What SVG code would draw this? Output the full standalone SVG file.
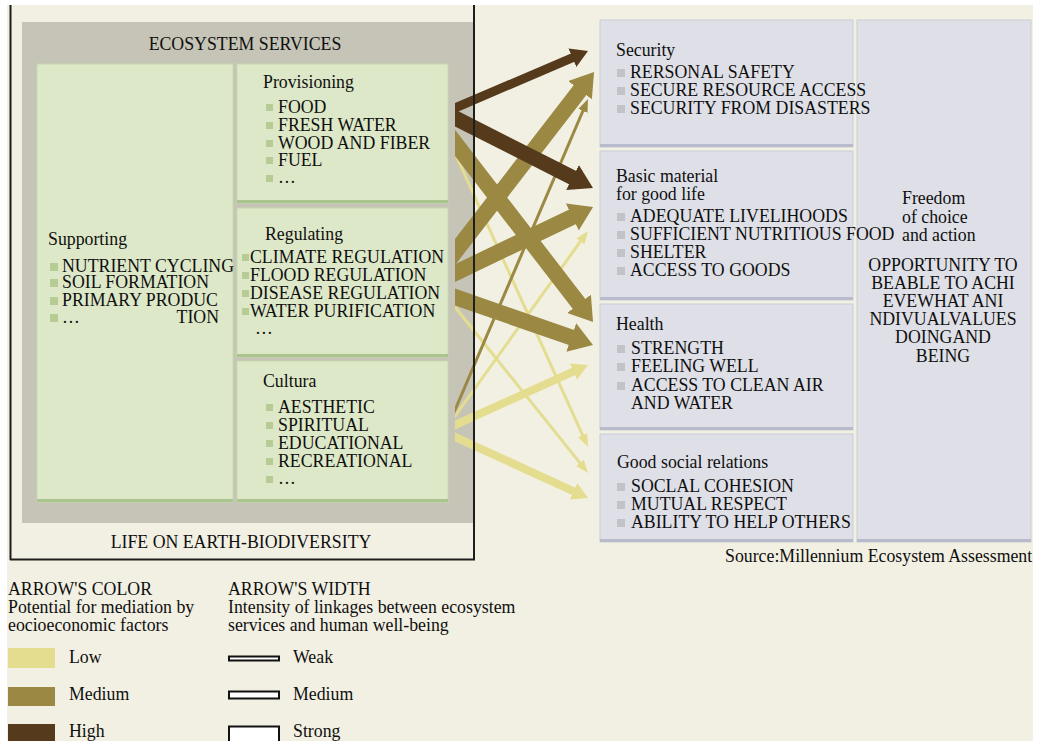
<svg xmlns="http://www.w3.org/2000/svg" width="1038" height="741" viewBox="0 0 1038 741">
<style>
.t{font-family:"Liberation Serif","Times New Roman",serif;font-size:17.8px;fill:#0f0f0f}
.c{text-anchor:middle}
.e{text-anchor:end}
.green{fill:#dde8c8;stroke:#c8d8ae;stroke-width:1}
.gbar{fill:#a9c48c}
.gb{fill:#b7cc95}
.blue{fill:#dfe0e7;stroke:#c9cbd7;stroke-width:1}
.bbar{fill:#b8bbcc}
.bb{fill:#c2c3c9}
.frame{stroke:#1e1e1e;stroke-width:2;fill:none}
.dark{stroke:#563a1c;fill:none}
.olive{stroke:#9a8843;fill:none}
.light{stroke:#e4dd90;fill:none}
</style>
<defs>
<clipPath id="arrowClip"><rect x="455" y="0" width="250" height="741"/></clipPath>
<marker id="mDarkM" markerUnits="userSpaceOnUse" markerWidth="17" markerHeight="20" refX="1" refY="10" orient="auto"><path d="M0,0 L17,10 L0,20 z" fill="#563a1c"/></marker>
<marker id="mDarkS" markerUnits="userSpaceOnUse" markerWidth="23" markerHeight="28" refX="1" refY="14" orient="auto"><path d="M0,0 L23,14 L0,28 z" fill="#563a1c"/></marker>
<marker id="mOliveS" markerUnits="userSpaceOnUse" markerWidth="23" markerHeight="30" refX="1" refY="15" orient="auto"><path d="M0,0 L23,15 L0,30 z" fill="#9a8843"/></marker>
<marker id="mOliveT" markerUnits="userSpaceOnUse" markerWidth="13" markerHeight="10" refX="1" refY="5" orient="auto"><path d="M0,0 L13,5 L0,10 z" fill="#9a8843"/></marker>
<marker id="mLightT" markerUnits="userSpaceOnUse" markerWidth="13" markerHeight="10" refX="1" refY="5" orient="auto"><path d="M0,0 L13,5 L0,10 z" fill="#e4dd90"/></marker>
<marker id="mLightM" markerUnits="userSpaceOnUse" markerWidth="16" markerHeight="18" refX="1" refY="9" orient="auto"><path d="M0,0 L16,9 L0,18 z" fill="#e4dd90"/></marker>
</defs>

<rect x="0" y="0" width="1038" height="741" fill="#ffffff"/>
<rect x="7" y="5" width="1026" height="736" fill="#f2f0e3"/>

<g id="ecosystem-services">
<rect x="22" y="22" width="451" height="501" fill="#c5c4b6"/>
<text class="t c" x="245" y="50">ECOSYSTEM SERVICES</text>
</g>

<g id="provisioning">
<rect class="green" x="237" y="64" width="211" height="139"/>
<rect class="gbar" x="237" y="200" width="211" height="3"/>
<text class="t" x="263" y="88">Provisioning</text>
<rect class="gb" x="266" y="104" width="7" height="7"/>
<text class="t" x="278" y="113">FOOD</text>
<rect class="gb" x="266" y="122" width="7" height="7"/>
<text class="t" x="278" y="131">FRESH WATER</text>
<rect class="gb" x="266" y="140" width="7" height="7"/>
<text class="t" x="278" y="149">WOOD AND FIBER</text>
<rect class="gb" x="266" y="157" width="7" height="7"/>
<text class="t" x="278" y="166">FUEL</text>
<rect class="gb" x="266" y="175" width="7" height="7"/>
<text class="t" x="278" y="183">…</text>
</g>

<g id="regulating">
<rect class="green" x="237" y="208" width="211" height="149"/>
<rect class="gbar" x="237" y="354" width="211" height="3"/>
<text class="t" x="265" y="240">Regulating</text>
<rect class="gb" x="242" y="254" width="7" height="7"/>
<rect class="gb" x="242" y="272" width="7" height="7"/>
<rect class="gb" x="242" y="290" width="7" height="7"/>
<rect class="gb" x="242" y="308" width="7" height="7"/>
<text class="t" x="255" y="334">…</text>
</g>

<g id="cultural">
<rect class="green" x="237" y="361" width="211" height="141"/>
<rect class="gbar" x="237" y="499" width="211" height="3"/>
<text class="t" x="263" y="387">Cultura</text>
<rect class="gb" x="266" y="404" width="7" height="7"/>
<text class="t" x="278" y="413">AESTHETIC</text>
<rect class="gb" x="266" y="422" width="7" height="7"/>
<text class="t" x="278" y="431">SPIRITUAL</text>
<rect class="gb" x="266" y="440" width="7" height="7"/>
<text class="t" x="278" y="449">EDUCATIONAL</text>
<rect class="gb" x="266" y="458" width="7" height="7"/>
<text class="t" x="278" y="467">RECREATIONAL</text>
<rect class="gb" x="266" y="476" width="7" height="7"/>
<text class="t" x="278" y="484">…</text>
</g>

<g id="supporting">
<rect class="green" x="37" y="64" width="196" height="438"/>
<rect class="gbar" x="37" y="499" width="196" height="3"/>
<text class="t" x="48" y="245">Supporting</text>
<rect class="gb" x="50" y="263" width="8" height="8"/>
<text class="t" x="62" y="272">NUTRIENT CYCLING</text>
<rect class="gb" x="50" y="279" width="8" height="8"/>
<text class="t" x="62" y="288">SOIL FORMATION</text>
<rect class="gb" x="50" y="297" width="8" height="8"/>
<text class="t" x="62" y="306">PRIMARY PRODUC</text>
<rect class="gb" x="50" y="314" width="8" height="8"/>
<text class="t" x="62" y="323">…</text>
<text class="t e" x="219" y="323">TION</text>
</g>

<g id="regulating-items">
<text class="t" x="250" y="263">CLIMATE REGULATION</text>
<text class="t" x="250" y="281">FLOOD REGULATION</text>
<text class="t" x="250" y="299">DISEASE REGULATION</text>
<text class="t" x="250" y="317">WATER PURIFICATION</text>
</g>

<g id="connectors" clip-path="url(#arrowClip)">
<line class="light" x1="445" y1="130.9" x2="583.1" y2="436.1" stroke-width="3" marker-end="url(#mLightT)"/>
<line class="light" x1="445" y1="294.5" x2="580.5" y2="463.6" stroke-width="3" marker-end="url(#mLightT)"/>
<line class="light" x1="445" y1="429.9" x2="581.0" y2="240.7" stroke-width="3" marker-end="url(#mLightT)"/>
<line class="light" x1="445" y1="429.5" x2="574.3" y2="371.2" stroke-width="8" marker-end="url(#mLightM)"/>
<line class="light" x1="445" y1="432.4" x2="574.4" y2="491.7" stroke-width="8" marker-end="url(#mLightM)"/>
<line class="olive" x1="445" y1="433.4" x2="583.3" y2="110.0" stroke-width="3" marker-end="url(#mOliveT)"/>
<line class="olive" x1="445" y1="130.0" x2="579.6" y2="304.6" stroke-width="16" marker-end="url(#mOliveS)"/>
<line class="olive" x1="445" y1="265.0" x2="580.6" y2="89.4" stroke-width="16" marker-end="url(#mOliveS)"/>
<line class="olive" x1="445" y1="277.8" x2="573.2" y2="216.5" stroke-width="16" marker-end="url(#mOliveS)"/>
<line class="olive" x1="445" y1="293.5" x2="572.2" y2="337.8" stroke-width="16" marker-end="url(#mOliveS)"/>
<line class="dark" x1="445" y1="112.3" x2="573.3" y2="57.3" stroke-width="9" marker-end="url(#mDarkM)"/>
<line class="dark" x1="445" y1="112.9" x2="573.4" y2="178.0" stroke-width="15" marker-end="url(#mDarkS)"/>
</g>

<g id="biodiversity-frame">
<line class="frame" x1="10.5" y1="5" x2="10.5" y2="560"/>
<line class="frame" x1="474" y1="5" x2="474" y2="560"/>
<line class="frame" x1="10" y1="559.5" x2="475" y2="559.5"/>
<text class="t c" x="241" y="548">LIFE ON EARTH-BIODIVERSITY</text>
</g>

<g id="freedom">
<rect class="blue" x="857" y="20" width="174" height="522"/>
<rect class="bbar" x="857" y="539" width="174" height="3"/>
<text class="t" x="902" y="204">Freedom</text>
<text class="t" x="902" y="223">of choice</text>
<text class="t" x="902" y="241">and action</text>
<text class="t c" x="943" y="271">OPPORTUNITY TO</text>
<text class="t c" x="943" y="289">BEABLE TO ACHI</text>
<text class="t c" x="943" y="307">EVEWHAT ANI</text>
<text class="t c" x="943" y="325">NDIVUALVALUES</text>
<text class="t c" x="943" y="343">DOINGAND</text>
<text class="t c" x="943" y="362">BEING</text>
</g>

<g id="security">
<rect class="blue" x="600" y="20" width="253" height="127"/>
<rect class="bbar" x="600" y="144" width="253" height="3"/>
<text class="t" x="616" y="56">Security</text>
<rect class="bb" x="617" y="69" width="8" height="8"/>
<text class="t" x="630" y="78">RERSONAL SAFETY</text>
<rect class="bb" x="617" y="87" width="8" height="8"/>
<text class="t" x="630" y="96">SECURE RESOURCE ACCESS</text>
<rect class="bb" x="617" y="105" width="8" height="8"/>
<text class="t" x="630" y="114">SECURITY FROM DISASTERS</text>
</g>

<g id="basic-material">
<rect class="blue" x="600" y="151" width="253" height="149"/>
<rect class="bbar" x="600" y="297" width="253" height="3"/>
<text class="t" x="616" y="182">Basic material</text>
<text class="t" x="616" y="200">for good life</text>
<rect class="bb" x="617" y="213" width="8" height="8"/>
<text class="t" x="630" y="222">ADEQUATE LIVELIHOODS</text>
<rect class="bb" x="617" y="231" width="8" height="8"/>
<text class="t" x="630" y="240">SUFFICIENT NUTRITIOUS FOOD</text>
<rect class="bb" x="617" y="249" width="8" height="8"/>
<text class="t" x="630" y="258">SHELTER</text>
<rect class="bb" x="617" y="267" width="8" height="8"/>
<text class="t" x="630" y="276">ACCESS TO GOODS</text>
</g>

<g id="health">
<rect class="blue" x="600" y="304" width="253" height="126"/>
<rect class="bbar" x="600" y="427" width="253" height="3"/>
<text class="t" x="616" y="330">Health</text>
<rect class="bb" x="617" y="345" width="8" height="8"/>
<text class="t" x="631" y="354">STRENGTH</text>
<rect class="bb" x="617" y="363" width="8" height="8"/>
<text class="t" x="631" y="372">FEELING WELL</text>
<rect class="bb" x="617" y="382" width="8" height="8"/>
<text class="t" x="631" y="391">ACCESS TO CLEAN AIR</text>
<text class="t" x="631" y="409">AND WATER</text>
</g>

<g id="social-relations">
<rect class="blue" x="600" y="434" width="253" height="108"/>
<rect class="bbar" x="600" y="539" width="253" height="3"/>
<text class="t" x="617" y="468">Good social relations</text>
<rect class="bb" x="617" y="483" width="8" height="8"/>
<text class="t" x="631" y="492">SOCLAL COHESION</text>
<rect class="bb" x="617" y="501" width="8" height="8"/>
<text class="t" x="631" y="510">MUTUAL RESPECT</text>
<rect class="bb" x="617" y="519" width="8" height="8"/>
<text class="t" x="631" y="528">ABILITY TO HELP OTHERS</text>
</g>

<g id="source">
<text class="t" x="725" y="562">Source:Millennium Ecosystem Assessment</text>
</g>

<g id="legend-color">
<text class="t" x="8" y="595">ARROW'S COLOR</text>
<text class="t" x="8" y="613">Potential for mediation by</text>
<text class="t" x="8" y="631">eocioeconomic factors</text>
<rect x="8" y="648" width="47" height="20" fill="#e4dd90"/>
<text class="t" x="69" y="663">Low</text>
<rect x="8" y="687" width="47" height="19" fill="#9a8843"/>
<text class="t" x="69" y="700">Medium</text>
<rect x="8" y="724" width="47" height="17" fill="#553a1c"/>
<text class="t" x="69" y="737">High</text>
</g>

<g id="legend-width">
<text class="t" x="228" y="595">ARROW'S WIDTH</text>
<text class="t" x="228" y="613">Intensity of linkages between ecosystem</text>
<text class="t" x="228" y="631">services and human well-being</text>
<rect x="229" y="656.5" width="50" height="4" fill="#ffffff" stroke="#111" stroke-width="2"/>
<text class="t" x="293" y="663">Weak</text>
<rect x="229" y="691.5" width="50" height="7" fill="#ffffff" stroke="#111" stroke-width="2"/>
<text class="t" x="293" y="700">Medium</text>
<rect x="229" y="726.5" width="50" height="16" fill="#ffffff" stroke="#111" stroke-width="2"/>
<text class="t" x="293" y="737">Strong</text>
</g>
</svg>
